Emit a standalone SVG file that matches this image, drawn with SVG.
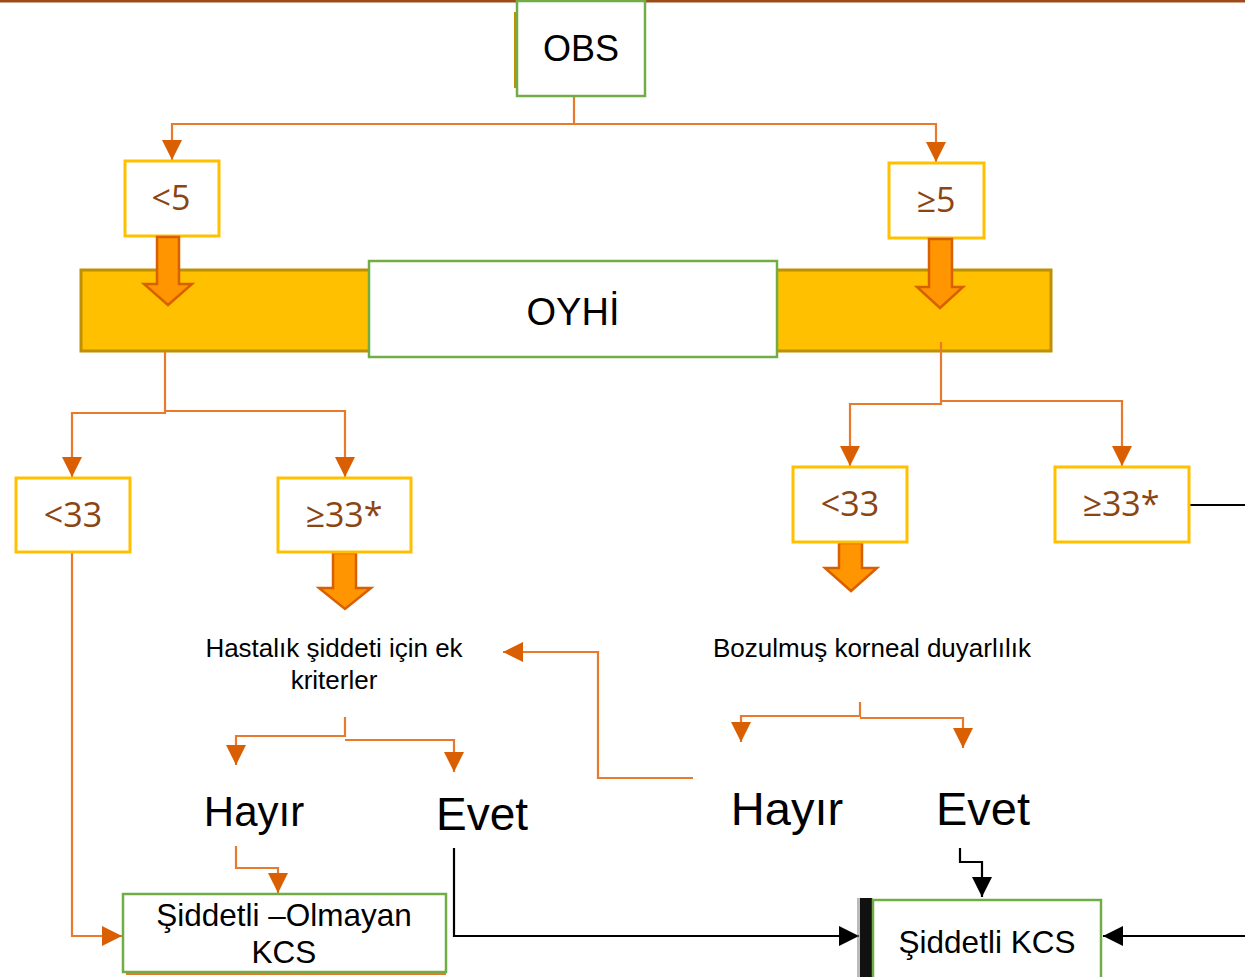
<svg xmlns="http://www.w3.org/2000/svg" width="1245" height="977" viewBox="0 0 1245 977">
<defs>
<style>
.bk{font-family:"Liberation Sans",Arial,sans-serif;fill:#000;text-anchor:middle}
.num{font-family:"Open Sans","Noto Sans",sans-serif;fill:#8B4513;text-anchor:middle;font-size:34px}
.gbox{fill:#fff;stroke:#70AD47;stroke-width:2.5}
.ybox{fill:#fff;stroke:#FFC000;stroke-width:3}
.oc{fill:none;stroke:#E87A2E;stroke-width:2.2}
.bc{fill:none;stroke:#000;stroke-width:2.2}
.blk{fill:#FF9500;stroke:#D86000;stroke-width:2.5}
</style>
<marker id="ao" viewBox="0 0 10 10" refX="10" refY="5" markerWidth="20" markerHeight="20" markerUnits="userSpaceOnUse" orient="auto">
<path d="M0,0 L10,5 L0,10 Z" fill="#D95F02"/>
</marker>
<marker id="ab" viewBox="0 0 10 10" refX="10" refY="5" markerWidth="20" markerHeight="22" markerUnits="userSpaceOnUse" orient="auto">
<path d="M0,0 L10,5 L0,10 Z" fill="#000"/>
</marker>
</defs>
<rect width="1245" height="977" fill="#fff"/>
<line x1="0" y1="1" x2="1245" y2="1" stroke="#9C4A1A" stroke-width="3"/>

<g id="oyhi-bar">
<rect x="81" y="270" width="970" height="81" fill="#FFC000" stroke="#BF9000" stroke-width="3"/>
</g>

<g id="connectors">
<path class="oc" d="M574,96 V124 H172 V160" marker-end="url(#ao)"/>
<path class="oc" d="M574,124 H936 V162" marker-end="url(#ao)"/>
<path class="oc" d="M165,352 V413 H72 V477" marker-end="url(#ao)"/>
<path class="oc" d="M165,411 H345 V477" marker-end="url(#ao)"/>
<path class="oc" d="M941,342 V404 H850 V466" marker-end="url(#ao)"/>
<path class="oc" d="M941,401 H1122 V466" marker-end="url(#ao)"/>
<path class="oc" d="M345,717 V736 H236 V765" marker-end="url(#ao)"/>
<path class="oc" d="M345,740 H454 V772" marker-end="url(#ao)"/>
<path class="oc" d="M860,702 V716 H741 V742" marker-end="url(#ao)"/>
<path class="oc" d="M860,718 H963 V748" marker-end="url(#ao)"/>
<path class="oc" d="M693,778 H598 V652 H503" marker-end="url(#ao)"/>
<path class="oc" d="M236,846 V868 H278 V893" marker-end="url(#ao)"/>
<path class="oc" d="M72,552 V936 H122" marker-end="url(#ao)"/>
<path class="oc" d="M126,974 H446"/>
<path class="bc" d="M454,848 V936 H859" marker-end="url(#ab)"/>
<path class="bc" d="M960,848 V862 H982 V897" marker-end="url(#ab)"/>
<path class="bc" d="M1245,936 H1103" marker-end="url(#ab)"/>
<path class="bc" d="M1189,505 H1245"/>
</g>

<g id="obs">
<rect x="514" y="12" width="4" height="76" fill="#C09000"/>
<rect class="gbox" x="517" y="1" width="128" height="95"/>
<text class="bk" x="581" y="61" font-size="36">OBS</text>
</g>

<g id="lt5">
<rect class="ybox" x="125" y="161" width="94" height="75"/>
<text class="num" x="171" y="210">&lt;5</text>
</g>
<g id="ge5">
<rect class="ybox" x="889" y="163" width="95" height="75"/>
<text class="num" x="936" y="212">≥5</text>
</g>

<g id="block-arrows">
<path class="blk" d="M157,237 H179 V284 H192 L168,305 L144,284 H157 Z"/>
<path class="blk" d="M929,239 H952 V287 H963 L940,308 L917,287 H929 Z"/>
<path class="blk" d="M333,553 H356 V588 H371 L345,609 L319,588 H333 Z"/>
<path class="blk" d="M839,543 H862 V568 H877 L851,591 L825,568 H839 Z"/>
</g>

<g id="oyhi">
<rect class="gbox" x="369" y="261" width="408" height="96"/>
<text class="bk" x="573" y="325" font-size="38">OYHİ</text>
</g>

<g id="l-lt33">
<rect class="ybox" x="16" y="478" width="114" height="74"/>
<text class="num" x="73" y="527">&lt;33</text>
</g>
<g id="l-ge33">
<rect class="ybox" x="278" y="478" width="133" height="74"/>
<text class="num" x="344" y="527">≥33*</text>
</g>
<g id="r-lt33">
<rect class="ybox" x="793" y="467" width="114" height="75"/>
<text class="num" x="850" y="516">&lt;33</text>
</g>
<g id="r-ge33">
<rect class="ybox" x="1055" y="467" width="134" height="75"/>
<text class="num" x="1121" y="516">≥33*</text>
</g>

<g id="ek-kriter">
<text class="bk" x="334" y="657" font-size="26">Hastalık şiddeti için ek</text>
<text class="bk" x="334" y="689" font-size="26">kriterler</text>
</g>
<g id="korneal">
<text class="bk" x="872" y="657" font-size="26">Bozulmuş korneal duyarlılık</text>
</g>

<g id="l-hayir"><text class="bk" x="254" y="826" font-size="42">Hayır</text></g>
<g id="l-evet"><text class="bk" x="482" y="830" font-size="46">Evet</text></g>
<g id="r-hayir"><text class="bk" x="787" y="825" font-size="47">Hayır</text></g>
<g id="r-evet"><text class="bk" x="983" y="825" font-size="47">Evet</text></g>

<g id="non-severe">
<rect class="gbox" x="123" y="894" width="323" height="78"/>
<text class="bk" x="284" y="926" font-size="31.5">Şiddetli –Olmayan</text>
<text class="bk" x="284" y="963" font-size="31.5">KCS</text>
</g>

<g id="severe">
<rect x="857" y="898" width="16" height="80" fill="#777" opacity="0.5"/>
<rect x="860" y="898" width="12" height="80" fill="#111"/>
<rect class="gbox" x="873" y="900" width="228" height="80"/>
<text class="bk" x="987" y="953" font-size="31.5">Şiddetli KCS</text>
</g>
</svg>
